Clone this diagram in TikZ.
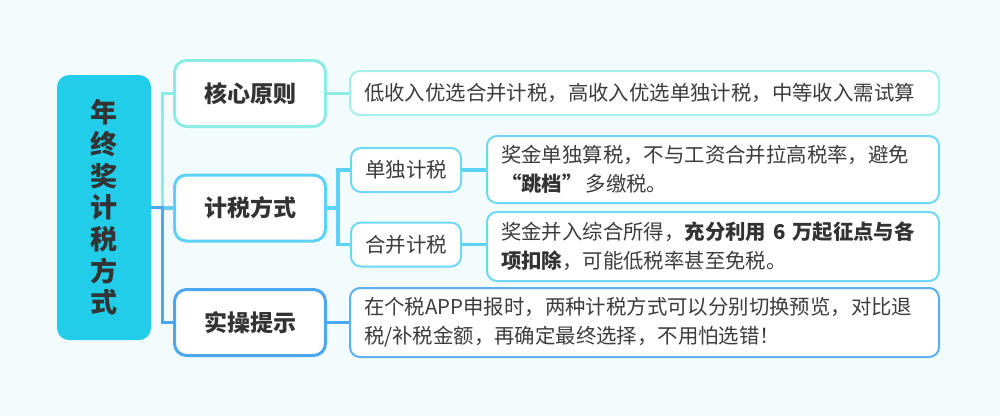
\documentclass[tikz,border=0pt]{standalone}
\usepackage{fontspec}
\setmainfont{Noto Sans CJK SC}
\definecolor{bg}{HTML}{F3FCFD}
\definecolor{rootc}{HTML}{21CDE8}
\definecolor{aqua}{HTML}{8DEBE5}
\definecolor{aqual}{HTML}{A3EFEA}
\definecolor{sky}{HTML}{5CD3F6}
\definecolor{skyl}{HTML}{6ED7F7}
\definecolor{blu}{HTML}{4BA7EF}
\definecolor{blul}{HTML}{5CAFF0}
\definecolor{txt}{HTML}{333333}
\definecolor{dtxt}{HTML}{3C3C3C}
\newcommand{\fw}[1]{{\addfontfeatures{RawFeature=+fwid}#1}}
\tikzset{
  rootbox/.style={fill=rootc, rounded corners=12pt, minimum width=94pt, minimum height=265pt,
    inner sep=0pt, text=txt, font=\bfseries\fontsize{27}{31.7}\selectfont, align=center},
  keybox/.style={fill=white, line width=3pt, rounded corners=12pt, minimum width=151pt,
    minimum height=66pt, inner sep=0pt, font=\bfseries\fontsize{23}{28}\selectfont, text=txt},
  subbox/.style={fill=white, line width=2pt, rounded corners=10pt, draw=skyl, minimum width=110pt,
    minimum height=44pt, inner sep=0pt, font=\fontsize{20.5}{25}\selectfont, text=dtxt},
  detailbox/.style={fill=white, line width=2pt, rounded corners=10pt, inner xsep=14pt,
    inner ysep=0pt, align=left, font=\fontsize{20.4}{29}\selectfont, text=dtxt},
  conn/.style={line width=3.5pt},
}
\begin{document}
\begin{tikzpicture}[x=1pt,y=-1pt]
\fill[bg] (0,0) rectangle (1000,416);
\useasboundingbox (0,0) rectangle (1000,416);

% root
\node[rootbox] (root) at (104,207.5) {年\\终\\奖\\计\\税\\方\\式};

% level 1
\node[keybox, draw=aqua] (k1) at (250,93.5) {核心原则};
\node[keybox, draw=sky] (k2) at (250,208) {计税方式};
\node[keybox, draw=blu] (k3) at (250,322.5) {实操提示};

% level 2
\node[detailbox, draw=aqual, text width=561pt, minimum height=44pt] (d1) at (644.5,93)
  {低收入优选合并计税，高收入优选单独计税，中等收入需试算};
\node[subbox] (s1) at (406,170) {单独计税};
\node[subbox] (s2) at (406,244.5) {合并计税};
\node[detailbox, draw=skyl, text width=424pt, minimum height=67pt] (d2) at (713,169.5)
  {奖金单独算税，不与工资合并拉高税率，避免\\{\bfseries\color{txt}\fw{“}跳档\fw{”}}\hspace{3pt}多缴税。};
\node[detailbox, draw=skyl, text width=424pt, minimum height=69pt] (d3) at (713,246.5)
  {奖金并入综合所得，{\bfseries\color{txt}充分利用 6 万起征点与各}\\{\bfseries\color{txt}项扣除}，可能低税率甚至免税。};
\node[detailbox, draw=blul, text width=561pt, minimum height=69pt] (d4) at (644.5,322.5)
  {在个税APP申报时，两种计税方式可以分别切换预览，对比退\\税/补税金额，再确定最终选择，不用怕选错！};

% connectors root -> level 1
\draw[conn, aqua] (root.east) -- ++(11.5,0) |- (k1.west);
\draw[conn, sky] (root.east) -- ++(11.5,0) |- (k2.west);
\draw[conn, blu] (root.east) -- ++(11.5,0) |- (k3.west);

% level 1 -> level 2
\draw[conn, aqua] (k1.east) -- (d1.west |- k1.east);
\draw[conn, sky] (k2.east) -- ++(11,0) |- (s1.west);
\draw[conn, sky] (k2.east) -- ++(11,0) |- (s2.west);
\draw[conn, sky] (s1.east) -- (d2.west |- s1.east);
\draw[conn, sky] (s2.east) -- (d3.west |- s2.east);
\draw[conn, blu] (k3.east) -- (d4.west |- k3.east);
\end{tikzpicture}
\end{document}
